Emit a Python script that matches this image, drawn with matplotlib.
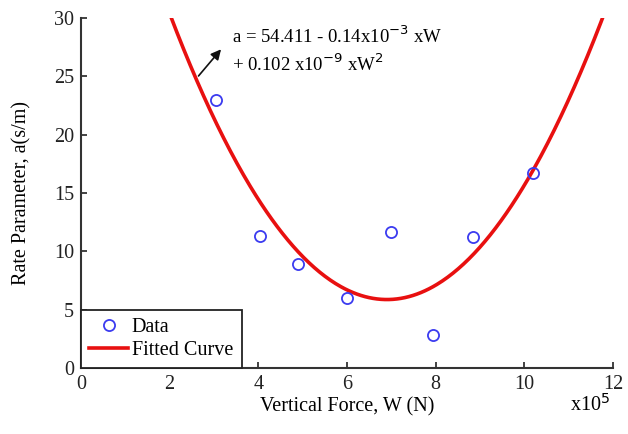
import matplotlib.pyplot as plt
import numpy as np

plt.rcParams['font.family'] = ['Liberation Serif', 'DejaVu Serif']

# measured data, W in units of 1e5 N
forceW = [3.04, 4.03, 4.89, 5.99, 7.00, 7.95, 8.85, 10.20]
rateA = [23.0, 11.3, 8.9, 6.0, 11.65, 2.85, 11.2, 16.7]

# fitted curve a = c0 + c1*W + c2*W^2 (label rounds these)
c0 = 54.46
c1 = -0.1408e-3
c2 = 0.102e-9

xTicks = [0, 2, 4, 6, 8, 10, 12]
yTicks = [0, 5, 10, 15, 20, 25, 30]

fig = plt.figure(figsize=(6.28, 4.34), dpi=100)
ax = fig.add_axes([0.129, 0.152, 0.847, 0.8065])

wFit = np.linspace(0, 12, 400)
aFit = c0 + c1 * (wFit * 1e5) + c2 * (wFit * 1e5) ** 2

ax.plot(forceW, rateA, 'o', mfc='none', mec='#3b3bf0', mew=1.3, ms=8, label='Data', zorder=3)
ax.plot(wFit, aFit, color='#e81010', lw=2.6, label='Fitted Curve', zorder=2)

ax.set_xlim(0, 12)
ax.set_ylim(0, 30)
ax.set_xticks(xTicks)
ax.set_yticks(yTicks)
ax.tick_params(direction='in', length=4, width=1.2, labelsize=14.5, pad=5, colors='#222222')
for side in ['top', 'right']:
    ax.spines[side].set_visible(False)
for side in ['left', 'bottom']:
    ax.spines[side].set_linewidth(1.5)
    ax.spines[side].set_color('#333333')

ax.set_xlabel('Vertical Force, W (N)', fontsize=14.5, labelpad=2)
ax.set_ylabel('Rate Parameter, a(s/m)', fontsize=14.5, labelpad=16)
fig.text(0.94, 0.067, r'x10$^5$', fontsize=14.5, ha='center', va='center')

ax.annotate('', xy=(3.2, 27.5), xytext=(2.61, 24.85),
            arrowprops=dict(arrowstyle='-|>,head_length=0.6,head_width=0.3', color='#111111', lw=1.2))
ax.text(3.4, 28.4, r'a = 54.411 - 0.14x10$^{-3}$ xW', fontsize=13.5, va='center')
ax.text(3.4, 26.0, r'+ 0.102 x10$^{-9}$ xW$^2$', fontsize=13.5, va='center')

leg = ax.legend(loc='lower left', bbox_to_anchor=(0, 0), borderaxespad=0, fancybox=False,
                edgecolor='#222222', fontsize=14.5, handlelength=1.9, handletextpad=0.2,
                borderpad=0.42, labelspacing=0.15, framealpha=1)
leg.get_frame().set_linewidth(1.3)

fig.savefig('out.png', dpi=100)
